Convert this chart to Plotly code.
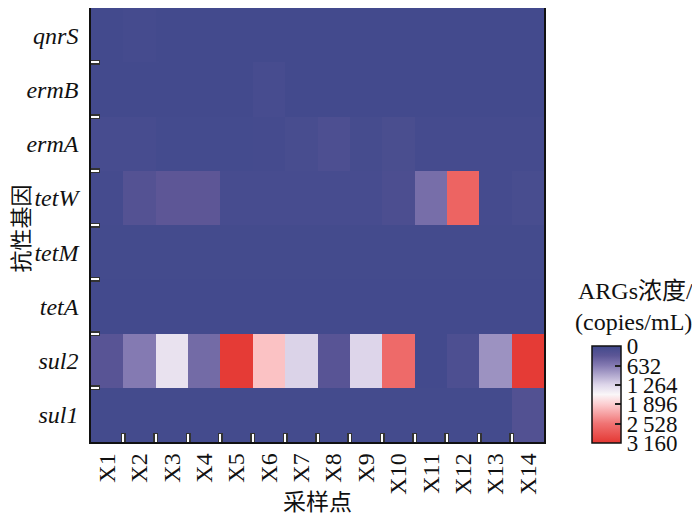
import plotly.graph_objects as go

sites = ["X1", "X2", "X3", "X4", "X5", "X6", "X7", "X8", "X9", "X10", "X11", "X12", "X13", "X14"]
genes = ["qnrS", "ermB", "ermA", "tetW", "tetM", "tetA", "sul2", "sul1"]

qnrS = [30, 60, 35, 35, 30, 30, 30, 30, 30, 30, 30, 30, 30, 30]
ermB = [30, 30, 30, 30, 30, 80, 30, 30, 30, 30, 30, 30, 30, 30]
ermA = [80, 80, 50, 50, 50, 60, 90, 150, 70, 110, 60, 60, 60, 60]
tetW = [60, 230, 320, 320, 80, 80, 80, 80, 80, 130, 530, 2690, 60, 90]
tetM = [40, 40, 40, 40, 40, 40, 40, 40, 40, 40, 40, 40, 40, 40]
tetA = [30, 30, 30, 30, 30, 30, 30, 30, 30, 30, 30, 30, 30, 30]
sul2 = [270, 632, 1385, 500, 3120, 1975, 1242, 270, 1260, 2625, 30, 150, 800, 3120]
sul1 = [40, 40, 40, 40, 40, 40, 40, 40, 40, 40, 40, 40, 40, 200]

z = [qnrS, ermB, ermA, tetW, tetM, tetA, sul2, sul1]

cbar_vals = [0, 632, 1264, 1896, 2528, 3160]
cbar_text = ["0", "632", "1\u2009264", "1\u2009896", "2\u2009528", "3\u2009160"]

FONT = "Liberation Serif, Noto Sans CJK SC, serif"
CJK = "Noto Sans CJK SC, Liberation Serif, serif"

xi = list(range(len(sites)))
yi = list(range(len(genes)))
xb = [i + 0.5 for i in xi[:-1]]
yb = [i + 0.5 for i in yi[:-1]]

# negate so that the colour bar reads 0 at the top, 3160 at the bottom
zneg = [[-v for v in row] for row in z]
zmax = cbar_vals[-1]

# colour stops given from value 0 (blue) to max (red), then flipped for negated data
stops = [
    (0.0, "rgb(64,73,140)"),
    (0.1, "rgb(92,86,150)"),
    (0.2, "rgb(132,122,178)"),
    (0.4, "rgb(222,214,234)"),
    (0.5, "rgb(250,246,248)"),
    (0.6, "rgb(252,205,208)"),
    (0.8, "rgb(240,115,115)"),
    (1.0, "rgb(228,55,50)"),
]
colorscale = sorted([[1 - s, c] for s, c in stops])

fig = go.Figure()
fig.add_trace(go.Heatmap(
    z=zneg, x=xi, y=yi,
    customdata=z,
    hovertemplate="%{customdata}<extra></extra>",
    zmin=-zmax, zmax=0,
    colorscale=colorscale,
    colorbar=dict(
        x=1.106, xanchor="left", y=0.109, yanchor="middle",
        thickness=29, thicknessmode="pixels",
        len=97, lenmode="pixels",
        tickmode="array",
        tickvals=[-v for v in cbar_vals], ticktext=cbar_text,
        ticks="inside", ticklen=6, tickwidth=2, tickcolor="#222",
        tickfont=dict(family=FONT, size=23, color="#111"),
        outlinecolor="#111", outlinewidth=1.5,
        ypad=0, xpad=0,
    ),
))

# page body adds an 8 px offset; figure size and margins compensate for it
fig.update_layout(
    width=692, height=517,
    margin=dict(l=83, r=156, t=0, b=83, autoexpand=False),
    paper_bgcolor="white", plot_bgcolor="white",
    font=dict(family=FONT, size=20, color="#111"),
    xaxis=dict(
        range=[-0.5, len(sites) - 0.5], automargin=False,
        tickmode="array", tickvals=xi, ticktext=sites,
        ticks="", tickangle=-90,
        tickfont=dict(family=FONT, size=24, color="#111"),
        showline=True, linecolor="#111", linewidth=1.5, mirror=True,
        showgrid=False, zeroline=False,
        minor=dict(tickmode="array", tickvals=xb,
                   ticks="inside", ticklen=9, tickwidth=4.5, tickcolor="#333", showgrid=False),
    ),
    yaxis=dict(
        range=[len(genes) - 0.5, -0.5], automargin=False,
        tickmode="array", tickvals=yi, ticktext=["<i>%s</i>" % g for g in genes],
        ticks="", ticklabelstandoff=6,
        tickfont=dict(family=FONT, size=24, color="#111"),
        showline=True, linecolor="#111", linewidth=1.5, mirror=True,
        showgrid=False, zeroline=False,
        minor=dict(tickmode="array", tickvals=yb,
                   ticks="inside", ticklen=9, tickwidth=4.5, tickcolor="#333", showgrid=False),
    ),
    xaxis2=dict(
        overlaying="x", anchor="y2", side="bottom",
        range=[-0.5, len(sites) - 0.5], automargin=False,
        showticklabels=False, ticks="", showline=False, showgrid=False, zeroline=False,
        minor=dict(tickmode="array", tickvals=xb,
                   ticks="inside", ticklen=8, tickwidth=2, tickcolor="white", showgrid=False),
    ),
    yaxis2=dict(
        overlaying="y", anchor="x2", side="left",
        range=[len(genes) - 0.5, -0.5], automargin=False,
        showticklabels=False, ticks="", showline=False, showgrid=False, zeroline=False,
        minor=dict(tickmode="array", tickvals=yb,
                   ticks="inside", ticklen=8, tickwidth=2, tickcolor="white", showgrid=False),
    ),
    annotations=[
        dict(text="采样点", xref="paper", yref="paper", x=0.5, y=-0.134,
             xanchor="center", yanchor="middle",
             showarrow=False, font=dict(family=CJK, size=23, color="#111")),
        dict(text="抗性基因", xref="paper", yref="paper", x=-0.158, y=0.493, textangle=-90,
             xanchor="center", yanchor="middle",
             showarrow=False, font=dict(family=CJK, size=22, color="#111")),
        dict(text="ARGs浓度/", xref="paper", yref="paper", x=1.201, y=0.348,
             xanchor="center", yanchor="middle",
             showarrow=False, font=dict(family=FONT, size=24, color="#111")),
        dict(text="(copies/mL)", xref="paper", yref="paper", x=1.197, y=0.276,
             xanchor="center", yanchor="middle",
             showarrow=False, font=dict(family=FONT, size=24, color="#111")),
    ],
)

# an empty trace on the overlay axes so their white tick marks are drawn
fig.add_trace(go.Scatter(x=[None], y=[None], xaxis="x2", yaxis="y2",
                         showlegend=False, hoverinfo="skip"))

fig.write_html("out.html")
